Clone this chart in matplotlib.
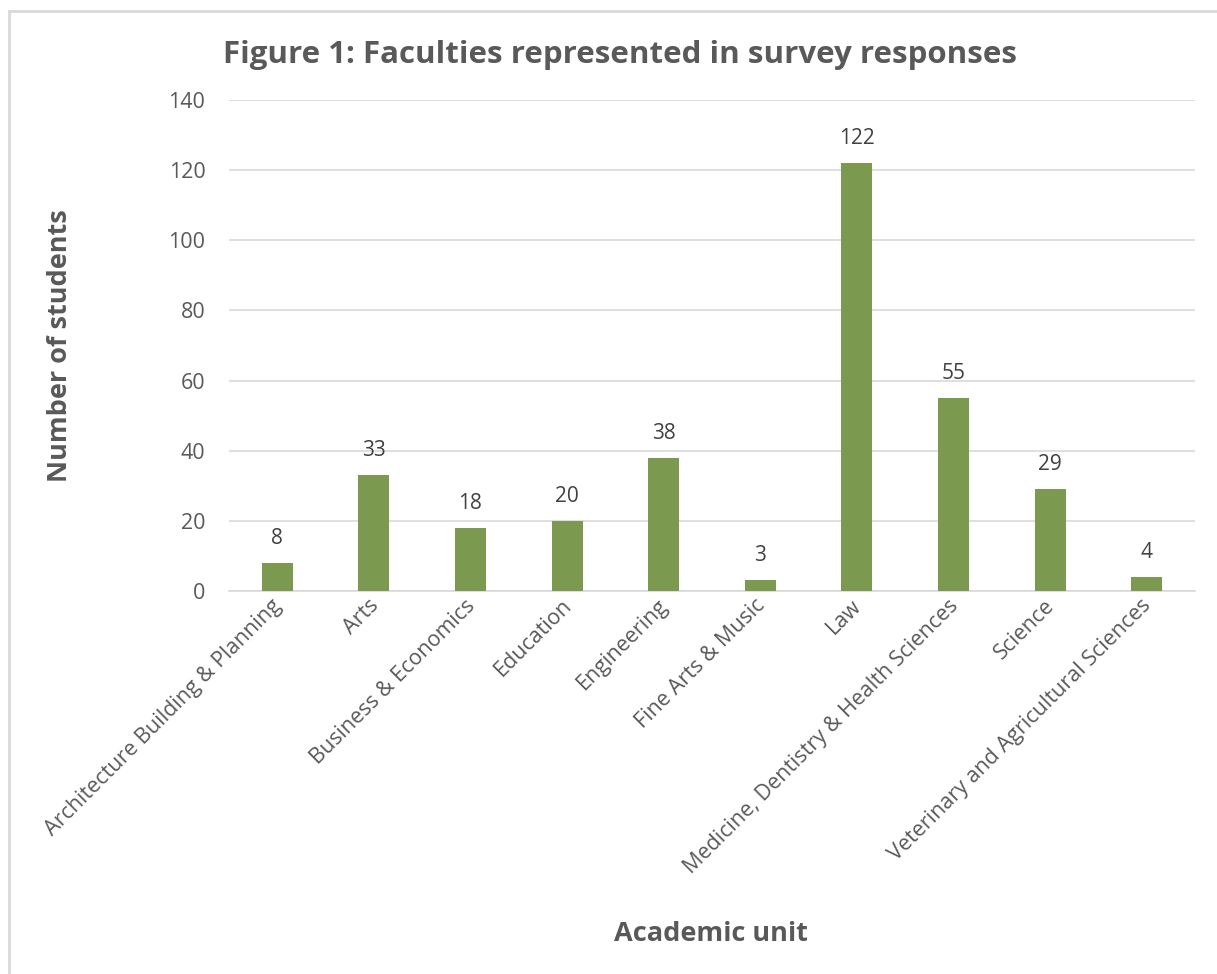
import matplotlib.pyplot as plt
from matplotlib.patches import Rectangle
from matplotlib.transforms import ScaledTranslation

faculties = ["Architecture Building & Planning", "Arts", "Business & Economics",
             "Education", "Engineering", "Fine Arts & Music", "Law",
             "Medicine, Dentistry & Health Sciences", "Science",
             "Veterinary and Agricultural Sciences"]
students = [8, 33, 18, 20, 38, 3, 122, 55, 29, 4]
y_ticks = [0, 20, 40, 60, 80, 100, 120, 140]

plt.rcParams['font.family'] = ['Open Sans', 'DejaVu Sans']
grey = '#595959'

fig = plt.figure(figsize=(12.17, 9.74), dpi=100)
ax = fig.add_axes([229 / 1217, 1 - 591 / 974, 966 / 1217, 491 / 974])

# light frame around the chart area, cut off on right and bottom
fig.patches.append(Rectangle((9 / 1217, -0.05), 1.2, 1 - 11 / 974 + 0.05,
                             transform=fig.transFigure, fill=False,
                             edgecolor='#D9D9D9', linewidth=2))

x = range(len(faculties))
bars = ax.bar(x, students, width=0.32, color='#7B9A4F', zorder=3)
for b, v in zip(bars, students):
    ax.text(b.get_x() + b.get_width() / 2, v + 4, str(v), ha='center', va='bottom',
            fontsize=15, color='#404040')

ax.set_xlim(-0.5, len(faculties) - 0.5)
ax.set_ylim(0, 140)
ax.set_yticks(y_ticks)
ax.set_yticklabels([str(t) for t in y_ticks], fontsize=15.5, color=grey)
ax.yaxis.grid(True, color='#D9D9D9', linewidth=1.2, zorder=0)
ax.tick_params(axis='y', length=0, pad=17)
ax.tick_params(axis='x', length=0, pad=3)
ax.set_xticks(list(x))
ax.set_xticklabels(faculties, rotation=45, ha='right', va='top', rotation_mode='anchor',
                   fontsize=15.5, color=grey)
# nudge category labels a little left so their ends sit just under the bars
shift = ScaledTranslation(-6 / 100, 0, fig.dpi_scale_trans)
for lbl in ax.get_xticklabels():
    lbl.set_transform(lbl.get_transform() + shift)
for s in ['top', 'right', 'left']:
    ax.spines[s].set_visible(False)
ax.spines['bottom'].set_color('#D9D9D9')
ax.spines['bottom'].set_linewidth(1.2)

fig.text(620 / 1217, 1 - 55 / 974, "Figure 1: Faculties represented in survey responses",
         ha='center', va='center', fontsize=22.5, fontweight='bold', color=grey)
fig.text(60 / 1217, 1 - 346 / 974, "Number of students", rotation=90,
         ha='center', va='center', fontsize=19.5, fontweight='bold', color=grey)
fig.text(711 / 1217, 1 - 934 / 974, "Academic unit",
         ha='center', va='center', fontsize=19.5, fontweight='bold', color=grey)

fig.savefig('out.png', dpi=100)
